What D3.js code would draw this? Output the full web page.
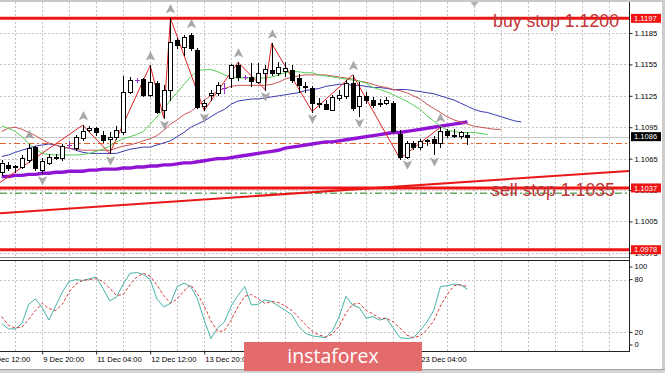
<!DOCTYPE html>
<html><head><meta charset="utf-8">
<script src="https://cdn.jsdelivr.net/npm/d3@7"></script>
<style>html,body{margin:0;padding:0;background:#fff;overflow:hidden}svg{display:block}</style>
</head><body>
<svg id="c" width="665" height="373"></svg>
<script>
// ---------- DATA ----------
const opens  = [1.1052,1.1059,1.1057,1.1057,1.1064,1.1076,1.1054,1.1061,1.1066,1.1066,
                1.1078,1.1075,1.1085,1.1092,1.1094,1.1088,1.1084,1.1086,1.1090,1.1129,
                1.1140,1.1141,1.1126,1.1137,1.1111,1.1131,1.1178,1.1172,1.1183,1.1169,
                1.1115,1.1126,1.1128,1.1132,1.1142,1.1154,1.1143,1.1143,1.1138,1.1147,
                1.1150,1.1147,1.1149,1.1150,1.1142,1.1134,1.1132,1.1117,1.1117,1.1111,
                1.1123,1.1125,1.1137,1.1115,1.1125,1.1121,1.1118,1.1118,1.1118,1.1089,
                1.1067,1.1080,1.1076,1.1082,1.1084,1.1080,1.1091,1.1088,1.1087,1.1088];
const highs  = [1.1064,1.1062,1.1059,1.1068,1.1079,1.1077,1.1066,1.1069,1.1069,1.1079,
                1.1082,1.1088,1.1097,1.1096,1.1095,1.1091,1.1090,1.1096,1.1144,1.1143,
                1.1142,1.1142,1.1154,1.1139,1.1135,1.1199,1.1180,1.1183,1.1185,1.1171,
                1.1121,1.1131,1.1138,1.1137,1.1155,1.1157,1.1145,1.1156,1.1156,1.1154,
                1.1175,1.1157,1.1157,1.1154,1.1146,1.1138,1.1134,1.1123,1.1121,1.1126,
                1.1131,1.1140,1.1145,1.1138,1.1129,1.1124,1.1122,1.1124,1.1120,1.1092,
                1.1082,1.1082,1.1084,1.1084,1.1087,1.1095,1.1093,1.1093,1.1091,1.1090];
const lows   = [1.1049,1.1054,1.1052,1.1056,1.1062,1.1054,1.1051,1.1060,1.1065,1.1064,
                1.1075,1.1073,1.1083,1.1091,1.1088,1.1081,1.1070,1.1084,1.1089,1.1128,
                1.1138,1.1125,1.1125,1.1109,1.1104,1.1121,1.1171,1.1164,1.1169,1.1113,
                1.1111,1.1121,1.1126,1.1128,1.1133,1.1140,1.1141,1.1134,1.1137,1.1131,
                1.1145,1.1145,1.1144,1.1138,1.1129,1.1129,1.1110,1.1114,1.1112,1.1111,
                1.1121,1.1123,1.1111,1.1106,1.1118,1.1114,1.1115,1.1117,1.1090,1.1065,
                1.1066,1.1074,1.1074,1.1078,1.1069,1.1076,1.1086,1.1086,1.1085,1.1079];
const closes = [1.1061,1.1056,1.1058,1.1066,1.1075,1.1056,1.1063,1.1067,1.1067,1.1077,
                1.1078,1.1086,1.1091,1.1094,1.1090,1.1083,1.1086,1.1092,1.1129,1.1140,
                1.1140,1.1126,1.1138,1.1110,1.1131,1.1176,1.1174,1.1181,1.1171,1.1114,
                1.1118,1.1128,1.1135,1.1132,1.1154,1.1143,1.1143,1.1139,1.1147,1.1151,
                1.1147,1.1153,1.1152,1.1140,1.1135,1.1133,1.1118,1.1118,1.1112,1.1124,
                1.1126,1.1137,1.1113,1.1125,1.1121,1.1116,1.1117,1.1121,1.1091,1.1067,
                1.1080,1.1076,1.1082,1.1083,1.1080,1.1091,1.1088,1.1087,1.1090,1.1086];

// Alligator (lips shifted 3, teeth shifted 5, jaw shifted 8)
const lips  = [1.1096,1.1094,1.1091,1.1086,1.1079,1.1074,1.1070,1.1069,1.10685,1.10685,
               1.10685,1.10685,1.1069,1.1070,1.1072,1.1074,1.1077,1.1081,1.1084,1.1086,
               1.1088,1.1091,1.1098,1.1105,1.1112,1.1121,1.1128,1.1136,1.1143,1.1149,
               1.1150,1.1150,1.1148,1.1145,1.1143,1.1142,1.1142,1.1142,1.1142,1.1142,
               1.1143,1.1145,1.1147,1.1148,1.1148,1.1147,1.1147,1.1145,1.1144,1.1143,
               1.1142,1.1141,1.1140,1.1139,1.1137,1.1133,1.1131,1.1129,1.1126,1.1123,
               1.1120,1.1116,1.1112,1.1106,1.1101,1.1096,1.1092,1.1091,1.1090,1.1090,
               1.1090,1.1089,1.1088];
const teeth = [1.1091,1.1094,1.1095,1.1093,1.1090,1.1087,1.1083,1.1080,1.1078,1.1076,
               1.1075,1.1074,1.1073,1.1073,1.1073,1.1073,1.1073,1.1075,1.1077,1.1078,
               1.1080,1.1082,1.1084,1.1087,1.1092,1.1098,1.1102,1.1107,1.1110,1.1115,
               1.1121,1.1125,1.1130,1.1132,1.1134,1.1135,1.1135,1.1135,1.1135,1.1135,
               1.1136,1.1138,1.1141,1.1143,1.1144,1.1145,1.1145,1.1145,1.1145,1.1144,
               1.1143,1.1142,1.1141,1.1139,1.1138,1.1136,1.1134,1.1133,1.1131,1.1130,
               1.1128,1.1125,1.1122,1.1117,1.1113,1.1109,1.1105,1.1102,1.1100,1.1098,
               1.1096,1.1095,1.1094,1.1093,1.1093];
const jaw   = [1.1067,1.10685,1.1071,1.1073,1.1075,1.1077,1.1078,1.1079,1.1078,1.1076,
               1.1075,1.1073,1.1071,1.1070,1.1070,1.1070,1.1070,1.1070,1.1072,1.1074,
               1.1075,1.1076,1.1076,1.1078,1.1080,1.1082,1.1086,1.1090,1.1095,1.1098,
               1.1101,1.1105,1.1109,1.1112,1.1117,1.1120,1.1121,1.1122,1.1122,1.1123,
               1.1124,1.1125,1.1126,1.1127,1.1128,1.1130,1.1131,1.1132,1.1134,1.1135,
               1.1136,1.1136,1.1135,1.1135,1.1134,1.1133,1.1133,1.1132,1.1131,1.1131,
               1.1131,1.1130,1.1129,1.1128,1.1127,1.1125,1.1123,1.1121,1.1118,1.1115,
               1.1112,1.1110,1.1109,1.1107,1.1105,1.1103,1.1101,1.1100];
const slowMA = [1.1048,1.1048,1.1049,1.1049,1.1050,1.1050,1.1051,1.1051,1.1052,1.1052,
                1.1053,1.1053,1.1053,1.1054,1.1054,1.1055,1.1055,1.1055,1.1056,1.1056,
                1.1057,1.1057,1.1058,1.1058,1.1059,1.1059,1.1060,1.1061,1.1061,1.1062,
                1.1063,1.1064,1.1065,1.1065,1.1066,1.1067,1.1068,1.1069,1.1070,1.1071,
                1.1072,1.1073,1.1075,1.1076,1.1077,1.1078,1.1079,1.1080,1.1081,1.1081,
                1.1082,1.1083,1.1084,1.1085,1.1086,1.1087,1.1088,1.1089,1.1090,1.1090,
                1.1091,1.1092,1.1093,1.1094,1.1095,1.1096,1.1097,1.1098,1.1099,1.1100];

const zigBars   = [-3,12,16,22,24,25,30,35,39,40,46,52,59,65];
const zigPrices = [1.1030,1.1097,1.1070,1.1154,1.1104,1.1199,1.1111,1.1157,1.1131,1.1175,1.1110,1.1145,1.1065,1.1095];
const fractalUp   = [4,12,22,25,28,35,40,52,65];
const fractalDown = [6,16,24,30,39,46,53,60,64];

const stochMain   = [30,24,24,30,52,58,48,34,50,66, 78,80,79,81,83,70,56,60,75,87,
                     88,86,80,58,49,53,72,76,72,58, 34,13,25,32,50,62,72,51,52,57,
                     55,50,45,40,27,19,16,15,14,22, 38,61,51,48,36,38,34,36,25,14,
                     13,14,22,32,45,72,73,75,74,69];
const stochSignal = [38,28,25,26,35,45,53,47,45,52, 66,75,79,80,81,78,70,62,63,74,
                     83,87,84,74,62,53,58,67,74,64, 50,33,21,22,34,49,61,63,58,53,
                     55,54,50,45,37,29,21,17,15,18, 27,42,52,53,45,41,36,36,32,25,
                     17,14,16,23,33,50,63,73,74,72];

const priceTicks = [1.1185,1.1155,1.1125,1.1095,1.1065,1.1035,1.1005,1.0975];
const oscTicks   = [100,80,20,0];
const oscGrid    = [80,20];
const timeBars   = [-2,6,14,22,30,38,46,54,62];
const timeLabels = ["6 Dec 12:00","9 Dec 20:00","11 Dec 04:00","12 Dec 12:00","13 Dec 20:00",
                    "17 Dec 04:00","18 Dec 12:00","19 Dec 20:00","23 Dec 04:00"];

const levelPrices = [1.1199,1.1037,1.0978];
const levelLabels = ["1.1197","1.1037","1.0978"];
const bidPrice = 1.1086;
const askPrice = 1.1080;
const sellStopLine = 1.1032;
const trendBars = [0,90];
const trendPrices = [1.1013,1.1052];
const noteTexts = ["buy stop 1.1200","sell stop 1.1035"];
const noteBars = [72.8,72.5];
const notePrices = [1.1191,1.1029];

// ---------- LAYOUT ----------
const FONT = "'Liberation Sans', Arial, sans-serif";
const plotW = 629;
const mainTop = 2, mainBot = 257;
const oscTop = 261, oscBot = 351;

const svg = d3.select("#c");
const x  = d3.scaleLinear().domain([0,93]).range([1.7, 1.7+6.75*93]);
const y  = d3.scaleLinear().domain([1.1185,1.1005]).range([33, 33+180*1.047]);
const yo = d3.scaleLinear().domain([0,100]).range([350,262]);
const px = v => Math.round(v)+0.5;

const defs = svg.append("defs");
defs.append("clipPath").attr("id","cm").append("rect").attr("x",0).attr("y",mainTop).attr("width",plotW).attr("height",mainBot-mainTop);
defs.append("clipPath").attr("id","co").append("rect").attr("x",0).attr("y",oscTop).attr("width",plotW).attr("height",oscBot-oscTop);

svg.append("rect").attr("width",665).attr("height",373).attr("fill","#fff");

const gm = svg.append("g").attr("clip-path","url(#cm)");
const go = svg.append("g").attr("clip-path","url(#co)");

const gridBars = d3.range(2,93,4);
[gm,go].forEach((g,k)=>{
  g.selectAll(null).data(gridBars).join("line")
   .attr("x1",d=>px(x(d))).attr("x2",d=>px(x(d)))
   .attr("y1",k?oscTop:mainTop).attr("y2",k?oscBot:mainBot)
   .attr("stroke","#c4c4c4").attr("stroke-dasharray","2,2");
});
gm.selectAll(null).data(priceTicks).join("line")
  .attr("x1",0).attr("x2",plotW).attr("y1",d=>px(y(d))).attr("y2",d=>px(y(d)))
  .attr("stroke","#c4c4c4").attr("stroke-dasharray","2,2");
go.selectAll(null).data(oscGrid).join("line")
  .attr("x1",0).attr("x2",plotW).attr("y1",d=>px(yo(d))).attr("y2",d=>px(yo(d)))
  .attr("stroke","#c4c4c4").attr("stroke-dasharray","2,2");

// bid line, ask line, sell stop line
gm.append("line").attr("x1",0).attr("x2",plotW).attr("y1",px(y(bidPrice))).attr("y2",px(y(bidPrice)))
  .attr("stroke","#c8c8c8");
gm.append("line").attr("x1",0).attr("x2",plotW).attr("y1",px(y(askPrice))).attr("y2",px(y(askPrice)))
  .attr("stroke","#e8602e").attr("stroke-dasharray","6,3,2,3");
gm.append("line").attr("x1",0).attr("x2",plotW).attr("y1",y(sellStopLine)).attr("y2",y(sellStopLine))
  .attr("stroke","#6aa86a").attr("stroke-width",1.6).attr("stroke-dasharray","7,3,2,3");

// trend line (extended across panel)
const slope = (trendPrices[1]-trendPrices[0])/(trendBars[1]-trendBars[0]);
const tb0 = x.invert(0), tb1 = x.invert(plotW);
gm.append("line")
  .attr("x1",0).attr("y1",y(trendPrices[0]+slope*(tb0-trendBars[0])))
  .attr("x2",plotW).attr("y2",y(trendPrices[0]+slope*(tb1-trendBars[0])))
  .attr("stroke","#e81818").attr("stroke-width",2);

// horizontal levels
gm.selectAll(null).data(levelPrices).join("line")
  .attr("x1",0).attr("x2",plotW).attr("y1",d=>y(d)).attr("y2",d=>y(d))
  .attr("stroke","#ee1515").attr("stroke-width",3);

// slow MA
const lineP = d3.line().x((d,i)=>x(i)).y(d=>y(d));
gm.append("path").attr("d",lineP(slowMA)).attr("fill","none").attr("stroke","#9114d4").attr("stroke-width",3.4);
// alligator
gm.append("path").attr("d",lineP(jaw)).attr("fill","none").attr("stroke","#3b3bb5").attr("stroke-width",1);
gm.append("path").attr("d",lineP(teeth)).attr("fill","none").attr("stroke","#cc5555").attr("stroke-width",1);
gm.append("path").attr("d",lineP(lips)).attr("fill","none").attr("stroke","#55d055").attr("stroke-width",1);

// zigzag
gm.append("path").attr("d",d3.line().x(d=>x(d)).y((d,i)=>y(zigPrices[i]))(zigBars))
  .attr("fill","none").attr("stroke","#dd2222").attr("stroke-width",1);

// candles
const idx = d3.range(opens.length);
const cg = gm.append("g");
idx.forEach(i=>{
  const cx = px(x(i));
  const doji = opens[i]===closes[i];
  const col = doji ? "#9a2fd0" : "#000";
  cg.append("line").attr("x1",cx).attr("x2",cx).attr("y1",Math.round(y(highs[i]))).attr("y2",Math.round(y(lows[i]))+1)
    .attr("stroke",col);
  if (doji) {
    cg.append("line").attr("x1",cx-2.5).attr("x2",cx+2.5).attr("y1",px(y(opens[i]))).attr("y2",px(y(opens[i])))
      .attr("stroke",col);
  } else {
    const t = px(y(Math.max(opens[i],closes[i]))), b = px(y(Math.min(opens[i],closes[i])));
    cg.append("rect").attr("x",cx-2).attr("width",4).attr("y",t).attr("height",Math.max(1,b-t))
      .attr("fill",closes[i]>opens[i]?"#fff":"#000").attr("stroke","#000");
  }
});

// fractals
const fg = gm.append("g");
fractalUp.forEach(i=>{
  fg.append("path").attr("d","M0,-4.5L4,3.5L0,1.5L-4,3.5Z")
    .attr("transform",`translate(${px(x(i))},${y(highs[i])-9})`)
    .attr("fill","#a8a8a8").attr("stroke","#8c8c8c").attr("stroke-width",0.5);
});
fractalDown.forEach(i=>{
  fg.append("path").attr("d","M0,4.5L4,-3.5L0,-1.5L-4,-3.5Z")
    .attr("transform",`translate(${px(x(i))},${y(lows[i])+7})`)
    .attr("fill","#a8a8a8").attr("stroke","#8c8c8c").attr("stroke-width",0.5);
});
// chart shift marker
gm.append("path").attr("d","M-4,2L4,2L0,7Z").attr("transform",`translate(${px(x(70))},0)`).attr("fill","#b4b4b4");

// notes
gm.selectAll(null).data(noteTexts).join("text")
  .attr("x",(d,i)=>x(noteBars[i])).attr("y",(d,i)=>y(notePrices[i]))
  .attr("font-family",FONT).attr("font-size",17.7).attr("fill","#c23434")
  .text(d=>d);

// stochastic
const lineO = d3.line().x((d,i)=>x(i)).y(d=>yo(d));
go.append("path").attr("d",lineO(stochMain)).attr("fill","none").attr("stroke","#45b3a8").attr("stroke-width",1);
go.append("path").attr("d",lineO(stochSignal)).attr("fill","none").attr("stroke","#d43a3a").attr("stroke-width",1).attr("stroke-dasharray","3,2");

// frames
svg.append("line").attr("x1",0).attr("x2",plotW+0.5).attr("y1",257.5).attr("y2",257.5).attr("stroke","#8a8a8a");
svg.append("line").attr("x1",0).attr("x2",plotW+0.5).attr("y1",260.5).attr("y2",260.5).attr("stroke","#222");
svg.append("line").attr("x1",0).attr("x2",plotW+0.5).attr("y1",351.5).attr("y2",351.5).attr("stroke","#222");
svg.append("line").attr("x1",629.5).attr("x2",629.5).attr("y1",2).attr("y2",352).attr("stroke","#222");
svg.append("rect").attr("x",0).attr("y",0).attr("width",665).attr("height",2).attr("fill","#c8c8c8");
svg.append("rect").attr("x",662).attr("y",0).attr("width",3).attr("height",373).attr("fill","#cdcdcd");
svg.append("rect").attr("x",0).attr("y",369).attr("width",665).attr("height",4).attr("fill","#d4d4d4");
svg.append("line").attr("x1",0).attr("x2",665).attr("y1",369.5).attr("y2",369.5).attr("stroke","#a0a0a0");

// price axis
const ax = svg.append("g").attr("transform","translate(629.5,0)")
  .call(d3.axisRight(y).tickValues(priceTicks).tickSize(3).tickFormat(d3.format(".4f")));
ax.select(".domain").remove();
ax.selectAll("text").attr("font-family",FONT).attr("font-size",7.6).attr("fill","#000").attr("x",5);
ax.selectAll("line").attr("stroke","#222");

// osc axis
const oa = svg.append("g").attr("transform","translate(629.5,0)")
  .call(d3.axisRight(yo).tickValues(oscTicks).tickSize(3));
oa.select(".domain").remove();
oa.selectAll(".tick").attr("transform",d=>`translate(0,${Math.min(oscBot-6,Math.max(oscTop+6,yo(d)))})`);
oa.selectAll("text").attr("font-family",FONT).attr("font-size",7.6).attr("fill","#000").attr("x",5);
oa.selectAll("line").attr("stroke","#222");

// time axis
const tx = svg.append("g").attr("transform","translate(0,351.5)")
  .call(d3.axisBottom(x).tickValues(timeBars).tickSize(3).tickFormat((d,i)=>timeLabels[i]));
tx.select(".domain").remove();
tx.selectAll("text").attr("font-family",FONT).attr("font-size",7.6).attr("fill","#000")
  .attr("text-anchor","start").attr("x",0.5).attr("y",5).attr("dy","0.71em");
tx.selectAll("line").attr("stroke","#222");

// level labels
const lg = svg.append("g");
levelPrices.forEach((p,i)=>{
  const yy = y(p);
  lg.append("rect").attr("x",631).attr("y",yy-4.5).attr("width",30).attr("height",9).attr("fill","#ee1515");
  lg.append("text").attr("x",634).attr("y",yy).attr("dy","0.34em").attr("font-family",FONT).attr("font-size",7.6)
    .attr("fill","#fff").text(levelLabels[i]);
});
lg.append("rect").attr("x",631).attr("y",y(bidPrice)-4.5).attr("width",30).attr("height",9).attr("fill","#000");
lg.append("text").attr("x",634).attr("y",y(bidPrice)).attr("dy","0.34em").attr("font-family",FONT).attr("font-size",7.6)
  .attr("fill","#fff").text(d3.format(".4f")(bidPrice));

// banner
svg.append("rect").attr("x",244).attr("y",342).attr("width",178).attr("height",29).attr("fill","#e46b6b");
svg.append("text").attr("x",333).attr("y",363).attr("text-anchor","middle")
  .attr("font-family","'Open Sans', 'Noto Sans', sans-serif").attr("font-size",19.5).attr("fill","#fff").text("instaforex");
</script>
</body></html>
